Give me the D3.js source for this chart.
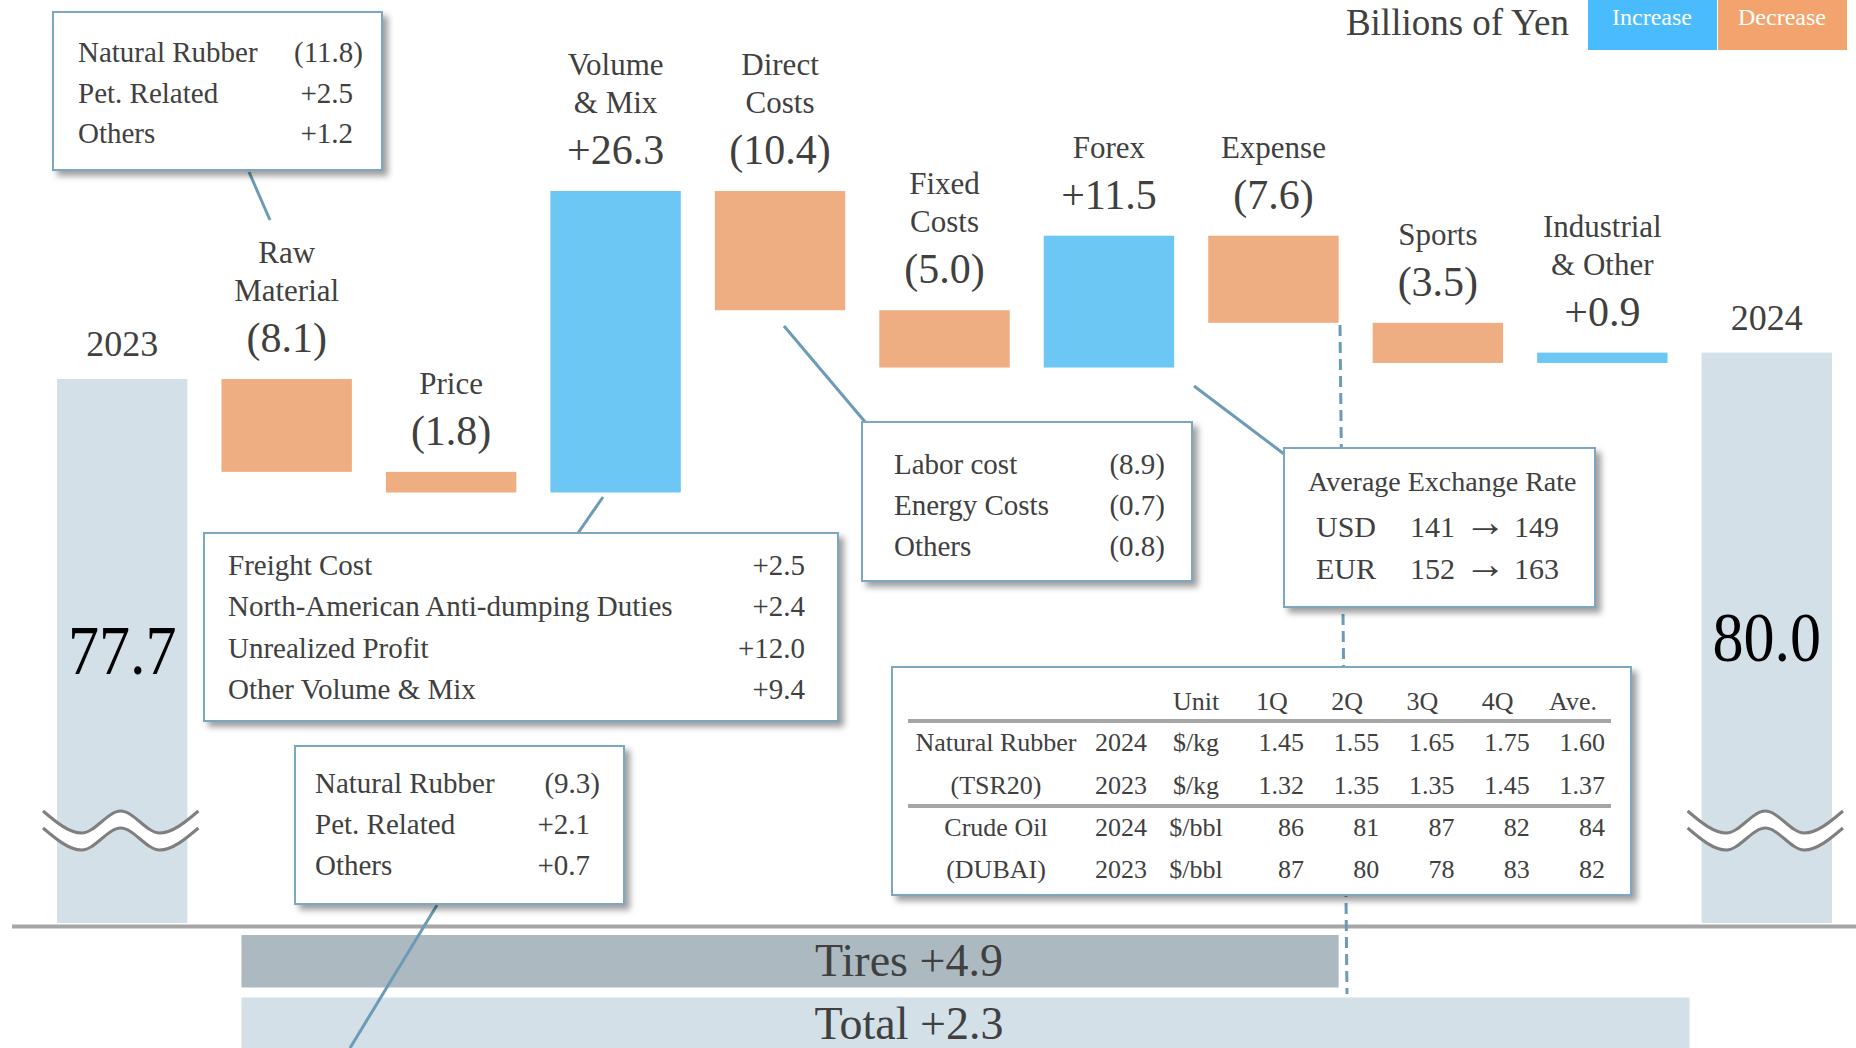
<!DOCTYPE html>
<html lang="en">
<head>
<meta charset="utf-8">
<title>Operating Profit Bridge 2023 to 2024</title>
<script src="https://cdn.jsdelivr.net/npm/d3@7/dist/d3.min.js"></script>
<style>
  body { margin: 0; background: #fff; }
  text { font-family: "Liberation Serif", "Times New Roman", serif; fill: #404040; }
</style>
</head>
<body>
<script>
// ---- data ----
var categories = ["2023", "Raw Material", "Price", "Volume & Mix", "Direct Costs", "Fixed Costs",
                  "Forex", "Expense", "Sports", "Industrial & Other", "2024"];
var nameLines = [[], ["Raw", "Material"], ["Price"], ["Volume", "& Mix"], ["Direct", "Costs"],
                 ["Fixed", "Costs"], ["Forex"], ["Expense"], ["Sports"], ["Industrial", "& Other"], []];
var values = [77.7, -8.1, -1.8, 26.3, -10.4, -5.0, 11.5, -7.6, -3.5, 0.9, 80.0];

var segmentNames = ["Tires", "Total"];
var segmentValues = [4.9, 2.3];

var rawLabels = ["Natural Rubber", "Pet. Related", "Others"];
var rawValues = [-11.8, 2.5, 1.2];
var volumeLabels = ["Freight Cost", "North-American Anti-dumping Duties", "Unrealized Profit", "Other Volume & Mix"];
var volumeValues = [2.5, 2.4, 12.0, 9.4];
var priceLabels = ["Natural Rubber", "Pet. Related", "Others"];
var priceValues = [-9.3, 2.1, 0.7];
var directLabels = ["Labor cost", "Energy Costs", "Others"];
var directValues = [-8.9, -0.7, -0.8];

var currencies = ["USD", "EUR"];
var rate2023 = [141, 152];
var rate2024 = [149, 163];

var tableHeaders = ["1Q", "2Q", "3Q", "4Q", "Ave."];
var rubber2024 = [1.45, 1.55, 1.65, 1.75, 1.60];
var rubber2023 = [1.32, 1.35, 1.35, 1.45, 1.37];
var oil2024 = [86, 81, 87, 82, 84];
var oil2023 = [87, 80, 78, 83, 82];

// ---- setup ----
var svgWidth = 1856;
var svgHeight = 1048;
var incColor = "#6DC7F4";
var decColor = "#EFAE82";
var totColor = "#D3E0E7";
var lineColor = "#6B9BB6";
var barBottom = 923;

var svg = d3.select("body").append("svg")
    .attr("width", svgWidth)
    .attr("height", svgHeight);

var defs = svg.append("defs");
var shadow = defs.append("filter").attr("id", "shadow")
    .attr("x", "-5%").attr("y", "-5%").attr("width", "115%").attr("height", "120%");
shadow.append("feDropShadow")
    .attr("dx", 5).attr("dy", 5).attr("stdDeviation", 3)
    .attr("flood-color", "#000").attr("flood-opacity", 0.38);

var x = d3.scaleBand().domain(categories).range([57, 1832]).paddingInner(0.207);
var y = d3.scaleLinear().domain([77.7, 94.1]).range([379, 191]);

var fmt1 = d3.format(".1f");
function fmt(v) { return v < 0 ? "(" + fmt1(-v) + ")" : "+" + fmt1(v); }

// waterfall steps
var bars = [];
var run = 0;
values.forEach(function(v, i) {
    var isTotal = (i === 0 || i === values.length - 1);
    if (isTotal) {
        bars.push({ cat: categories[i], v: v, lo: null, hi: v, total: true, i: i });
        run = v;
    } else {
        var start = run;
        run = +(run + v).toFixed(1);
        bars.push({ cat: categories[i], v: v, lo: Math.min(start, run), hi: Math.max(start, run), total: false, i: i });
    }
});

// bars
svg.selectAll("rect.bar")
    .data(bars)
    .enter()
    .append("rect")
    .attr("class", "bar")
    .attr("x", function(d) { return x(d.cat); })
    .attr("width", x.bandwidth())
    .attr("y", function(d) { return y(d.hi); })
    .attr("height", function(d) { return d.total ? barBottom - y(d.hi) : y(d.lo) - y(d.hi); })
    .attr("fill", function(d) { return d.total ? totColor : (d.v > 0 ? incColor : decColor); });

// wave break marks on total bars
var waveTop = 811, waveBot = 833, waveGap = 17;
var waveLine = d3.line().curve(d3.curveMonotoneX);
bars.filter(function(d) { return d.total; }).forEach(function(d) {
    var x0 = x(d.cat) - 14, x1 = x(d.cat) + x.bandwidth() + 11;
    var p = (x1 - x0) / 4;
    var upper = [0, 1, 2, 3, 4].map(function(k) { return [x0 + k * p, k % 2 ? waveBot : waveTop]; });
    var lower = upper.map(function(pt) { return [pt[0], pt[1] + waveGap]; });
    var band = waveLine(upper) + "L" + waveLine(lower.slice().reverse()).slice(1) + "Z";
    svg.append("path").attr("d", band).attr("fill", "#fff");
    svg.append("path").attr("d", waveLine(upper)).attr("fill", "none").attr("stroke", "#7F7F7F").attr("stroke-width", 3);
    svg.append("path").attr("d", waveLine(lower)).attr("fill", "none").attr("stroke", "#7F7F7F").attr("stroke-width", 3);
});

// big total values inside total bars, year labels above
bars.filter(function(d) { return d.total; }).forEach(function(d) {
    var cx = x(d.cat) + x.bandwidth() / 2;
    svg.append("text")
        .attr("transform", "translate(" + cx + "," + ((y(d.hi) + barBottom) / 2 + 23) + ") scale(0.9,1)")
        .attr("text-anchor", "middle")
        .attr("font-size", "69px")
        .style("fill", "#000")
        .text(fmt1(d.v));
    svg.append("text")
        .attr("x", cx)
        .attr("y", y(d.hi) - 23)
        .attr("text-anchor", "middle")
        .attr("font-size", "36px")
        .text(d.cat);
});

// labels above step bars
bars.filter(function(d) { return !d.total; }).forEach(function(d) {
    var cx = x(d.cat) + x.bandwidth() / 2;
    var vy = y(d.hi) - 27;
    svg.append("text")
        .attr("x", cx).attr("y", vy)
        .attr("text-anchor", "middle")
        .attr("font-size", "42px")
        .text(fmt(d.v));
    var lines = nameLines[d.i];
    lines.forEach(function(t, k) {
        svg.append("text")
            .attr("x", cx)
            .attr("y", vy - 51 - (lines.length - 1 - k) * 38)
            .attr("text-anchor", "middle")
            .attr("font-size", "31px")
            .text(t);
    });
});

// axis break baseline
svg.append("line")
    .attr("x1", 12).attr("x2", svgWidth)
    .attr("y1", 926.5).attr("y2", 926.5)
    .attr("stroke", "#A6A6A6").attr("stroke-width", 4);

// segment bars (Tires / Total)
var segStart = x(categories[1]) + 20;
var segEnds = [x("Expense") + x.bandwidth(), x("2024") - 12];
var segY = d3.scaleBand().domain(segmentNames).range([935, 1050]).paddingInner(0.16);
var segColors = ["#ADB9C1", totColor];
segmentNames.forEach(function(n, i) {
    svg.append("rect")
        .attr("x", segStart).attr("y", segY(n))
        .attr("width", segEnds[i] - segStart).attr("height", segY.bandwidth())
        .attr("fill", segColors[i]);
    svg.append("text")
        .attr("x", 909).attr("y", segY(n) + 41)
        .attr("text-anchor", "middle")
        .attr("font-size", "46px")
        .text(n + " " + fmt(segmentValues[i]));
});

// dashed divider
svg.append("line")
    .attr("x1", 1340).attr("y1", 325).attr("x2", 1347).attr("y2", 994)
    .attr("stroke", lineColor).attr("stroke-width", 3).attr("stroke-dasharray", "11 6");

// connectors
var connectors = [
    [249, 172, 270, 220],
    [603, 497, 578, 533],
    [784, 326, 866, 423],
    [1194, 386, 1284, 454],
    [437, 905, 350, 1048]
];
connectors.forEach(function(c) {
    svg.append("line")
        .attr("x1", c[0]).attr("y1", c[1]).attr("x2", c[2]).attr("y2", c[3])
        .attr("stroke", lineColor).attr("stroke-width", 3);
});

function box(x0, y0, w, h) {
    svg.append("rect")
        .attr("x", x0).attr("y", y0).attr("width", w).attr("height", h)
        .attr("fill", "#fff")
        .attr("stroke", "#7DA7C0").attr("stroke-width", 2)
        .attr("filter", "url(#shadow)");
}

function breakdown(x0, y0, w, h, textX, valueX, firstBase, step, labels, vals) {
    box(x0, y0, w, h);
    labels.forEach(function(l, i) {
        svg.append("text")
            .attr("x", textX).attr("y", firstBase + i * step)
            .attr("font-size", "29px")
            .text(l);
        var s = fmt(vals[i]);
        svg.append("text")
            .attr("x", s.slice(-1) === ")" ? valueX + 10 : valueX)
            .attr("y", firstBase + i * step)
            .attr("text-anchor", "end")
            .attr("font-size", "29px")
            .text(s);
    });
}

breakdown(53, 12, 329, 158, 78, 353, 62, 40.5, rawLabels, rawValues);
breakdown(204, 533, 634, 188, 228, 805, 575, 41.3, volumeLabels, volumeValues);
breakdown(295, 746, 329, 158, 315, 590, 793, 41, priceLabels, priceValues);
breakdown(862, 422, 330, 159, 894, 1155, 474, 41, directLabels, directValues);

// exchange rate box
box(1284, 448, 311, 159);
svg.append("text").attr("x", 1308).attr("y", 491).attr("font-size", "28px").text("Average Exchange Rate");
currencies.forEach(function(c, i) {
    var by = 537 + i * 42;
    svg.append("text").attr("x", 1316).attr("y", by).attr("font-size", "30px").text(c);
    svg.append("text").attr("x", 1410).attr("y", by).attr("font-size", "30px").text(rate2023[i]);
    svg.append("text").attr("x", 1485).attr("y", by - 1).attr("text-anchor", "middle").attr("font-size", "42px").text("\u2192");
    svg.append("text").attr("x", 1514).attr("y", by).attr("font-size", "30px").text(rate2024[i]);
});

// price table
box(892, 667, 739, 228);
var colRight = d3.scaleLinear().domain([0, tableHeaders.length - 1]).range([1304, 1605]);
var tfs = "26px";
svg.append("text").attr("x", 1196).attr("y", 710).attr("text-anchor", "middle").attr("font-size", tfs).text("Unit");
tableHeaders.forEach(function(h, i) {
    svg.append("text").attr("x", colRight(i) - 32).attr("y", 710)
        .attr("text-anchor", "middle").attr("font-size", tfs).text(h);
});
[721, 806].forEach(function(ly) {
    svg.append("line").attr("x1", 908).attr("x2", 1611).attr("y1", ly).attr("y2", ly)
        .attr("stroke", "#A6A6A6").attr("stroke-width", 4);
});
var tableRows = [
    { name: "Natural Rubber", year: "2024", unit: "$/kg", vals: rubber2024, f: d3.format(".2f") },
    { name: "(TSR20)", year: "2023", unit: "$/kg", vals: rubber2023, f: d3.format(".2f") },
    { name: "Crude Oil", year: "2024", unit: "$/bbl", vals: oil2024, f: d3.format("d") },
    { name: "(DUBAI)", year: "2023", unit: "$/bbl", vals: oil2023, f: d3.format("d") }
];
var rowBase = [751, 794, 836, 878];
tableRows.forEach(function(r, k) {
    var by = rowBase[k];
    svg.append("text").attr("x", 996).attr("y", by).attr("text-anchor", "middle").attr("font-size", tfs).text(r.name);
    svg.append("text").attr("x", 1121).attr("y", by).attr("text-anchor", "middle").attr("font-size", tfs).text(r.year);
    svg.append("text").attr("x", 1196).attr("y", by).attr("text-anchor", "middle").attr("font-size", tfs).text(r.unit);
    r.vals.forEach(function(v, i) {
        svg.append("text").attr("x", colRight(i)).attr("y", by).attr("text-anchor", "end")
            .attr("font-size", tfs).text(r.f(v));
    });
});

// units + legend
svg.append("text")
    .attr("x", 1569).attr("y", 35)
    .attr("text-anchor", "end")
    .attr("font-size", "37px")
    .text("Billions of Yen");
var legend = [["Increase", "#4ABCFD"], ["Decrease", "#F3A46E"]];
legend.forEach(function(l, i) {
    var lx = 1588 + i * 130;
    svg.append("rect").attr("x", lx).attr("y", 0).attr("width", 129).attr("height", 50).attr("fill", l[1]);
    svg.append("text").attr("x", lx + 64).attr("y", 25).attr("text-anchor", "middle")
        .attr("font-size", "24px").style("fill", "#fff").text(l[0]);
});
</script>
</body>
</html>
